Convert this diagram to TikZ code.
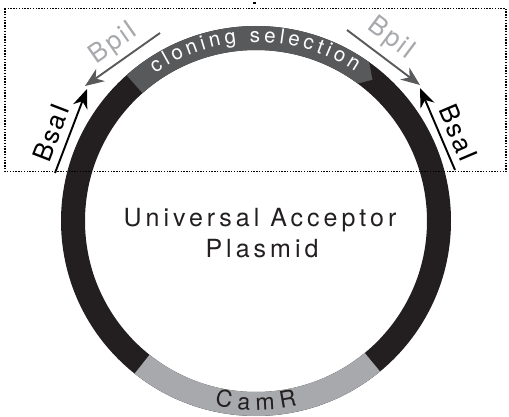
\documentclass[tikz,border=0pt]{standalone}
\usepackage{fontspec}
\setmainfont{TeX Gyre Heros}
\usetikzlibrary{arrows.meta,calc}
\definecolor{ringdark}{HTML}{231F20}
\definecolor{selgray}{HTML}{58595B}
\definecolor{camgray}{HTML}{A7A9AC}
\definecolor{bpitext}{HTML}{A7A9AC}
% #1 list char/width(em), #2 start angle, #3 baseline radius, #4 font size, #5 tracking, #6 direction, #7 style, #8 name prefix
\newcommand{\arcwords}[8]{%
  \gdef\gacc{0}%
  \foreach \ch/\w [count=\ii] in {#1}{%
    \pgfmathsetmacro\sPos{\gacc+\w*#4/2}%
    \pgfmathsetmacro\tmpacc{\gacc+\w*#4+#5}%
    \global\let\gacc\tmpacc
    \pgfmathsetmacro\ang{#2+#6*\sPos/#3*180/pi}%
    \pgfmathsetmacro\rot{\ang+90*#6}%
    \node[#7, rotate=\rot, anchor=base] (#8\ii) at ($(C)+(\ang:#3)$) {\ch};
  }}
\begin{document}
\begin{tikzpicture}[x=1pt,y=1pt,
  ringstyle/.style={line width=24pt, draw=ringdark},
  centertext/.style={font=\fontsize{25}{29}\selectfont\addfontfeatures{LetterSpace=16}, text=ringdark, inner sep=0pt},
  seltext/.style={font=\fontsize{20.5}{24}\selectfont, text=white, inner sep=0pt},
  camtext/.style={font=\fontsize{23}{27}\selectfont, text=ringdark, inner sep=0pt},
  lblblack/.style={font=\fontsize{26}{30}\selectfont\addfontfeatures{LetterSpace=8}, text=black, inner sep=0pt},
  lblgray/.style={font=\fontsize{26}{30}\selectfont\addfontfeatures{LetterSpace=8}, text=bpitext, inner sep=0pt},
  enzblack/.style={draw=black, line width=1.9pt, -{Stealth[length=19pt,width=15pt,inset=6pt]}},
  enzgray/.style={draw=selgray, line width=1.9pt, -{Stealth[length=19pt,width=15pt,inset=6pt]}},
  boxstyle/.style={draw=black, line width=1.4pt, dash pattern=on 1.4pt off 1.4pt}]
\useasboundingbox (0,0) rectangle (509,416);
\coordinate (C) at (256,195);
% ring
\draw[ringstyle] (C) circle[radius=183];
% cloning selection arc (arrow shaped)
\fill[selgray] ($(C)+(131.6:195)$) arc[start angle=131.6, end angle=54.5, radius=195]
  -- ($(C)+(50.5:183)$) -- ($(C)+(53.5:171)$) arc[start angle=53.5, end angle=131.6, radius=171] -- cycle;
% CamR arc
\fill[camgray] ($(C)+(231.5:195)$) arc[start angle=231.5, end angle=309.5, radius=195]
  -- ($(C)+(309.5:171)$) arc[start angle=309.5, end angle=231.5, radius=171] -- cycle;
% arc texts
\arcwords{c/.5,l/.222,o/.556,n/.556,i/.222,n/.556,g/.556,~/.278,s/.5,e/.556,l/.222,e/.556,c/.5,t/.278,i/.222,o/.556,n/.556}{124.3}{179}{20.5}{3.8}{-1}{seltext}{cs}
\arcwords{C/.722,a/.556,m/.833,R/.722}{257.4}{189}{23}{6}{1}{camtext}{cm}
% centre text
\node[centertext, anchor=base] (title1) at (260,190) {Universal Acceptor};
\node[centertext, anchor=base] (title2) at (262,159) {Plasmid};
% enzyme arrows
\coordinate (bsaLs) at (55,243);
\coordinate (bsaLt) at (87,327);
\coordinate (bpiLs) at (160,383);
\coordinate (bpiLt) at (85,330);
\coordinate (bpiRs) at (347,386);
\coordinate (bpiRt) at (420,331);
\coordinate (bsaRs) at (455,246);
\coordinate (bsaRt) at (420,328);
\draw[enzgray] (bpiLs) -- (bpiLt);
\draw[enzgray] (bpiRs) -- (bpiRt);
\draw[enzblack] (bsaLs) -- (bsaLt);
\draw[enzblack] (bsaRs) -- (bsaRt);
% enzyme labels
\node[lblblack, rotate=69] (bsaL) at (51,283) {BsaI};
\node[lblblack, rotate=-67] (bsaR) at (458,283) {BsaI};
\node[lblgray, rotate=35] (bpiL) at (114,372) {BpiI};
\node[lblgray, rotate=-37] (bpiR) at (391,377) {BpiI};
% dotted selection box
\coordinate (boxA) at (5,407.5);
\coordinate (boxB) at (506,244.3);
\draw[boxstyle] (boxA) rectangle (boxB);
\fill[black] (253,411.5) rectangle (255.5,414);
\end{tikzpicture}
\end{document}
